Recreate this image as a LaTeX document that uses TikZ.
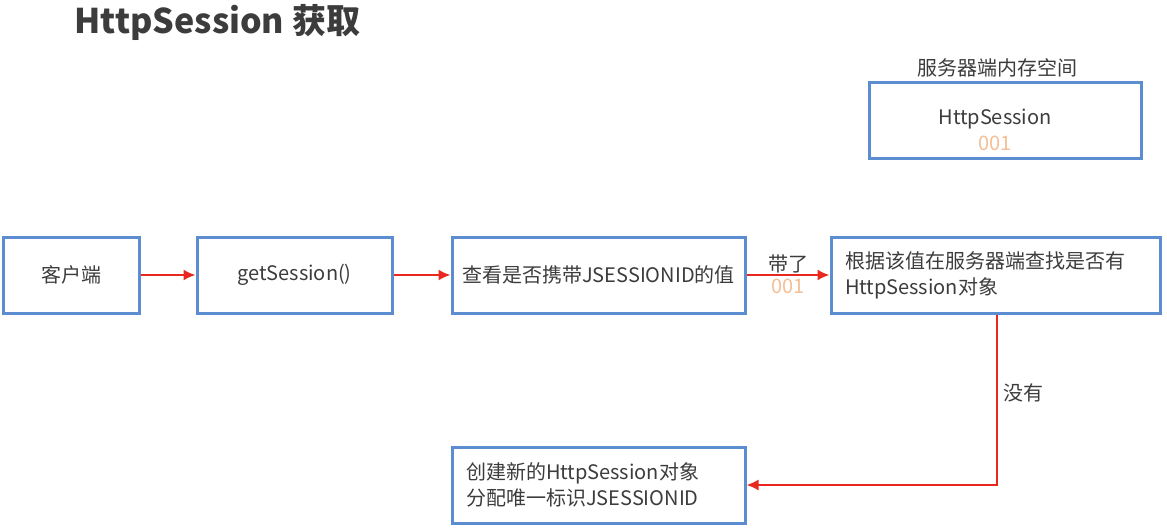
\documentclass[tikz,border=0pt]{standalone}
\usepackage{fontspec}
\setmainfont{Noto Sans CJK SC}
\usetikzlibrary{arrows.meta,positioning}
\definecolor{boxblue}{HTML}{5B8DD0}
\definecolor{flowred}{HTML}{E8281E}
\definecolor{textgray}{HTML}{3C3C3C}
\definecolor{peach}{HTML}{F5BE94}
\tikzset{
    stepbox/.style={draw=boxblue, line width=3pt, minimum height=76pt, inner xsep=14pt, text=textgray, font=\fontsize{20}{26}\selectfont},
    flow/.style={-{Latex[length=12pt, width=11pt]}, line width=1.8pt, flowred},
    note/.style={text=textgray, font=\fontsize{20}{26}\selectfont}
}

\begin{document}
\begin{tikzpicture}[x=1pt, y=-1pt]
    \useasboundingbox (0,0) rectangle (1167,530);
    \node[anchor=west, text=textgray, font=\fontsize{34}{38}\selectfont\bfseries] (title) at (71,22) {HttpSession 获取};
    % main flow
    \node[stepbox, minimum width=136pt] (client) at (71,275) {客户端};
    \node[stepbox, minimum width=195pt, right=55pt of client] (getsession) {getSession()};
    \node[stepbox, minimum width=293pt, inner xsep=4pt, right=57pt of getsession] (check) {查看是否携带JSESSIONID的值};
    \node[stepbox, text width=301pt, align=left, right=83pt of check] (find) {根据该值在服务器端查找是否有\\HttpSession对象};
    \node[stepbox, text width=265pt, align=left, below=131pt of check] (create) {创建新的HttpSession对象\\分配唯一标识JSESSIONID};
    % server memory
    \node[stepbox, minimum width=272pt] (server) at (1005,120) {};
    \node[note, align=center] (sessiontxt) at (995,130) {HttpSession\\\textcolor{peach}{001}};
    \node[note] (memory) at (997,68) {服务器端内存空间};
    \draw[flow] (client) -- (getsession);
    \draw[flow] (getsession) -- (check);
    \draw[flow] (check) -- node[note, above=-2pt] (carry) {带了} node[note, below=0pt, text=peach] (carryid) {001} (find);
    \draw[flow] ([xshift=1.5pt]find.south) |- node[note, pos=0.23, right=2pt] (none) {没有} (create.east);
\end{tikzpicture}
\end{document}
